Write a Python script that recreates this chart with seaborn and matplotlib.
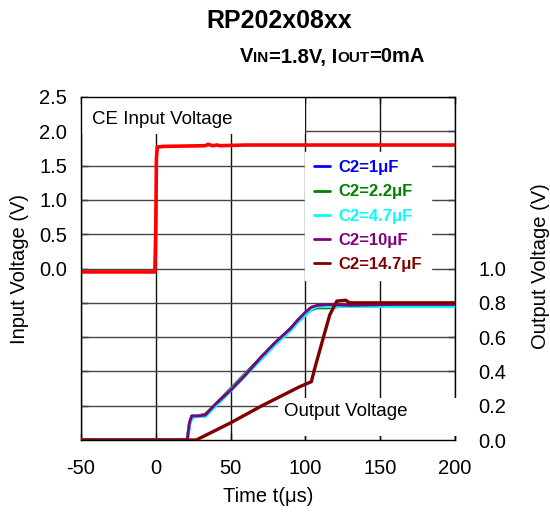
import numpy as np
import matplotlib
matplotlib.use('Agg')
import matplotlib.pyplot as plt
import seaborn as sns
from matplotlib.lines import Line2D
from matplotlib.patches import Rectangle
from matplotlib.offsetbox import TextArea, HPacker, AnchoredOffsetbox

# CE input voltage (left axis)
t_ce = [-50, -0.6, 0.0, 0.4, 1.0, 5, 33, 35, 38, 41, 43, 60, 200]
v_ce = [-0.05, -0.05, 0.6, 1.6, 1.77, 1.78, 1.79, 1.81, 1.79, 1.80, 1.79, 1.80, 1.80]

# output voltage (right axis)
t_out = [-50, 21.0, 22.5, 24.0, 27, 33, 40, 50, 60, 70, 80, 90, 95, 100, 104, 108, 115, 130, 160, 200]
v_c1 = [0, 0, 0.10, 0.14, 0.14, 0.14, 0.20, 0.29, 0.38, 0.47, 0.56, 0.65, 0.70, 0.74, 0.77, 0.785, 0.785, 0.785, 0.785, 0.785]
v_c22 = [0, 0, 0.09, 0.13, 0.14, 0.15, 0.21, 0.30, 0.39, 0.48, 0.57, 0.65, 0.69, 0.73, 0.76, 0.77, 0.77, 0.785, 0.79, 0.795]
v_c47 = [0, 0, 0.09, 0.13, 0.14, 0.14, 0.20, 0.29, 0.38, 0.47, 0.56, 0.64, 0.69, 0.73, 0.765, 0.78, 0.78, 0.78, 0.78, 0.78]
v_c10 = [0, 0, 0.10, 0.14, 0.14, 0.145, 0.21, 0.29, 0.38, 0.48, 0.57, 0.65, 0.70, 0.745, 0.775, 0.785, 0.79, 0.785, 0.79, 0.79]
t_c147 = [-50, 27, 50, 71, 96, 104, 106, 111.6, 116.3, 121, 127, 129.5, 160, 200]
v_c147 = [0, 0, 0.10, 0.20, 0.31, 0.34, 0.41, 0.585, 0.73, 0.81, 0.815, 0.80, 0.80, 0.80]

labels = ['C2=1μF', 'C2=2.2μF', 'C2=4.7μF', 'C2=10μF', 'C2=14.7μF']
colors = ['#0000ff', '#008000', '#00ffff', '#800080', '#800000']

sns.set_style('white')
plt.rcParams['font.family'] = ['Liberation Sans', 'DejaVu Sans']
plt.rcParams['axes.unicode_minus'] = False
plt.rcParams['text.color'] = 'black'
plt.rcParams['xtick.color'] = 'black'
plt.rcParams['ytick.color'] = 'black'

fig = plt.figure(figsize=(5.5, 5.12), dpi=100)
ax = fig.add_axes([81 / 550, 72 / 512, 374 / 550, 343 / 512])
ax2 = ax.twinx()

ax.set_xlim(-50, 200)
ax.set_ylim(-2.5, 2.5)
ax2.set_ylim(0, 2.0)

# grid drawn by hand so the text boxes can hide parts of it
for xv in [-50, 0, 50, 100, 150, 200]:
    ax.axvline(xv, color='#111111', lw=1.0, zorder=1)
for yv in np.arange(-2.0, 2.51, 0.5):
    ax.axhline(yv, color='#444444', lw=1.0, zorder=1)

ax.add_patch(Rectangle((-50, 1.96), 150, 0.6, facecolor='white', edgecolor='none', zorder=1.2))
ax.text(-42.7, 2.17, 'CE Input Voltage', fontsize=13.5, va='center', ha='left', zorder=4)
# output voltage label box (right scale 0.023..0.245 -> left scale)
ax.add_patch(Rectangle((82, 0.023 * 2.5 - 2.5), 120, (0.245 - 0.023) * 2.5,
                       facecolor='white', edgecolor='none', zorder=3, clip_on=False))
ax.text(86, 0.164 * 2.5 - 2.5, 'Output Voltage', fontsize=13.5, va='center', ha='left', zorder=4)

sns.lineplot(x=t_ce, y=v_ce, ax=ax, color='#ff0000', lw=2.6, estimator=None, zorder=2)

series = [(t_out, v_c1), (t_out, v_c22), (t_out, v_c47), (t_out, v_c10), (t_c147, v_c147)]
widths = [2.0, 2.0, 2.6, 2.0, 2.4]
for (tt, vv), c, w in zip(series, colors, widths):
    sns.lineplot(x=tt, y=vv, ax=ax2, color=c, lw=w, estimator=None)

ax.set_xticks([-50, 0, 50, 100, 150, 200])
ax.set_yticks(np.arange(-2.0, 2.51, 0.5))
ax.set_yticklabels([''] * 4 + ['%.1f' % v for v in np.arange(0, 2.51, 0.5)])
ax.tick_params(axis='both', direction='in', length=5, width=1, color='black',
               labelsize=14.5, top=True, right=True, left=True, bottom=True)
ax.tick_params(axis='x', pad=14)
ax.tick_params(axis='y', pad=10)

ax2.set_yticks(np.arange(0, 1.01, 0.2))
ax2.set_yticklabels(['%.1f' % v for v in np.arange(0, 1.01, 0.2)])
ax2.tick_params(axis='y', direction='in', length=0, labelsize=14.5, pad=17)
for s in ax2.spines.values():
    s.set_visible(False)
for s in ax.spines.values():
    s.set_visible(True)
    s.set_color('black')
    s.set_linewidth(1.0)
ax.set_xlabel('')
ax.set_ylabel('')
ax2.set_ylabel('')

handles = [Line2D([0], [0], color=c, lw=2) for c in colors]
leg = ax2.legend(handles, labels, loc='upper left', bbox_to_anchor=(0.6, 0.84),
                 borderaxespad=0, frameon=True, fancybox=False, framealpha=1,
                 facecolor='white', edgecolor='white', handlelength=1.0,
                 handletextpad=0.5, labelspacing=0.55, borderpad=0.5,
                 labelcolor='linecolor', prop={'weight': 'bold', 'size': 12})
leg.set_zorder(5)

fig.text(20 / 550, 1 - 269 / 512, 'Input Voltage (V)', rotation=90, fontsize=14.5,
         ha='center', va='center')
fig.text(540 / 550, 1 - 266 / 512, 'Output Voltage (V)', rotation=90, fontsize=14.5,
         ha='center', va='center')
fig.text(268 / 550, 1 - 497 / 512, 'Time t(μs)', fontsize=14.5, ha='center', va='center')

fig.text(279 / 550, 1 - 21 / 512, 'RP202x08xx', fontsize=18, fontweight='bold',
         ha='center', va='center')

big = dict(fontsize=14.5, fontweight='bold')
small = dict(fontsize=11, fontweight='bold')
parts = [TextArea('V', textprops=big), TextArea('IN', textprops=small),
         TextArea('=1.8V, I', textprops=big), TextArea('OUT', textprops=small),
         TextArea('=0mA', textprops=big)]
pack = HPacker(children=parts, align='baseline', pad=0, sep=0)
anch = AnchoredOffsetbox(loc='center left', child=pack, pad=0, borderpad=0, frameon=False,
                         bbox_to_anchor=(240 / 550, 1 - 57 / 512),
                         bbox_transform=fig.transFigure)
fig.add_artist(anch)

fig.savefig('out.png', dpi=100)
